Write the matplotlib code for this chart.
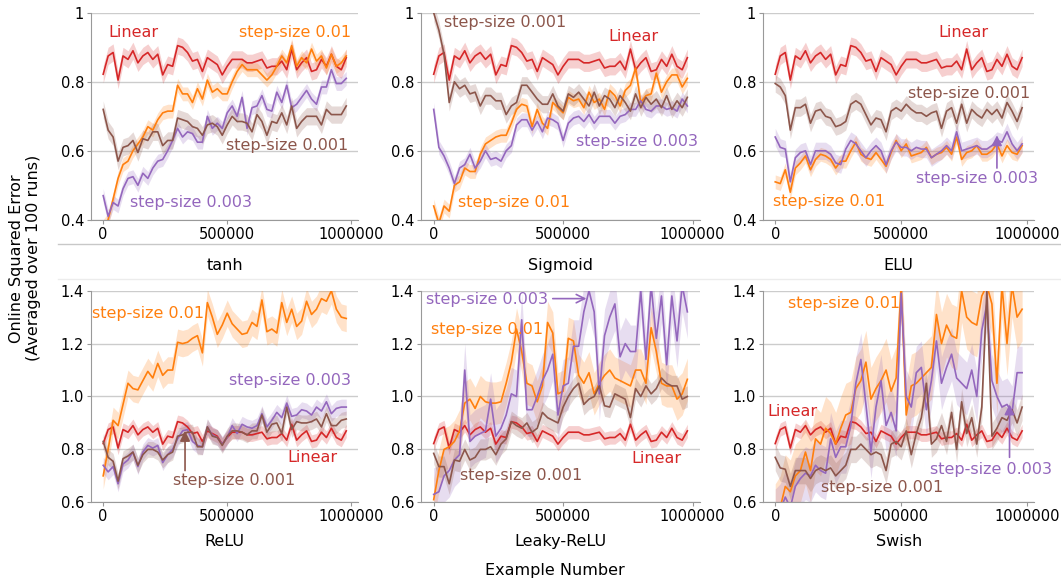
import numpy as np
import matplotlib
matplotlib.use("Agg")
import matplotlib.pyplot as plt
from matplotlib.lines import Line2D

# sample positions (every 20000 examples)
steps = list(range(0, 1000000, 20000))

# Linear baseline (same in every panel)
linear = [0.822, 0.875, 0.885, 0.805, 0.875, 0.865, 0.890, 0.855, 0.875, 0.885,
          0.865, 0.880, 0.820, 0.850, 0.845, 0.905, 0.900, 0.885, 0.860, 0.865,
          0.830, 0.870, 0.860, 0.850, 0.820, 0.845, 0.865, 0.865, 0.865, 0.855,
          0.855, 0.860, 0.865, 0.840, 0.845, 0.845, 0.860, 0.835, 0.895, 0.835,
          0.855, 0.870, 0.830, 0.835, 0.865, 0.845, 0.880, 0.845, 0.835, 0.870]

# tanh
tanh_s01 = [0.380, 0.400, 0.460, 0.520, 0.560, 0.570, 0.600, 0.620, 0.640, 0.670,
            0.660, 0.690, 0.710, 0.715, 0.715, 0.790, 0.765, 0.765, 0.740, 0.780,
            0.750, 0.805, 0.770, 0.780, 0.765, 0.765, 0.800, 0.830, 0.850, 0.835,
            0.835, 0.835, 0.820, 0.805, 0.820, 0.845, 0.875, 0.855, 0.905, 0.845,
            0.870, 0.855, 0.895, 0.860, 0.875, 0.840, 0.880, 0.845, 0.855, 0.875]
tanh_s003 = [0.470, 0.410, 0.450, 0.440, 0.490, 0.520, 0.525, 0.500, 0.535, 0.520,
             0.550, 0.570, 0.575, 0.600, 0.630, 0.665, 0.640, 0.655, 0.650, 0.625,
             0.625, 0.700, 0.665, 0.680, 0.665, 0.710, 0.730, 0.700, 0.755, 0.665,
             0.725, 0.730, 0.760, 0.720, 0.715, 0.770, 0.740, 0.790, 0.725, 0.735,
             0.755, 0.775, 0.750, 0.735, 0.785, 0.785, 0.835, 0.795, 0.795, 0.810]
tanh_s001 = [0.720, 0.660, 0.640, 0.570, 0.610, 0.615, 0.630, 0.595, 0.635, 0.630,
             0.655, 0.655, 0.615, 0.630, 0.630, 0.695, 0.690, 0.685, 0.670, 0.665,
             0.645, 0.675, 0.680, 0.670, 0.645, 0.675, 0.700, 0.685, 0.685, 0.680,
             0.655, 0.705, 0.685, 0.645, 0.685, 0.680, 0.710, 0.675, 0.730, 0.665,
             0.685, 0.700, 0.700, 0.700, 0.675, 0.720, 0.705, 0.705, 0.705, 0.730]

# Sigmoid
sig_s01 = [0.440, 0.390, 0.440, 0.425, 0.500, 0.510, 0.550, 0.540, 0.540, 0.590,
           0.620, 0.630, 0.640, 0.645, 0.645, 0.680, 0.720, 0.735, 0.730, 0.670,
           0.720, 0.680, 0.665, 0.740, 0.725, 0.710, 0.755, 0.745, 0.750, 0.725,
           0.770, 0.740, 0.750, 0.720, 0.775, 0.760, 0.730, 0.775, 0.790, 0.840,
           0.740, 0.760, 0.765, 0.825, 0.770, 0.800, 0.820, 0.820, 0.785, 0.810]
sig_s003 = [0.720, 0.610, 0.585, 0.550, 0.505, 0.550, 0.560, 0.590, 0.550, 0.570,
            0.600, 0.575, 0.580, 0.570, 0.600, 0.615, 0.675, 0.690, 0.690, 0.660,
            0.685, 0.655, 0.695, 0.690, 0.680, 0.630, 0.680, 0.695, 0.700, 0.685,
            0.705, 0.680, 0.700, 0.700, 0.700, 0.680, 0.700, 0.705, 0.720, 0.720,
            0.745, 0.720, 0.715, 0.730, 0.730, 0.720, 0.725, 0.715, 0.750, 0.730]
sig_s001 = [1.000, 0.950, 0.880, 0.740, 0.800, 0.780, 0.790, 0.765, 0.770, 0.730,
            0.760, 0.760, 0.745, 0.745, 0.705, 0.730, 0.740, 0.790, 0.790, 0.770,
            0.750, 0.735, 0.735, 0.765, 0.730, 0.715, 0.765, 0.755, 0.770, 0.750,
            0.730, 0.770, 0.730, 0.760, 0.750, 0.725, 0.760, 0.740, 0.715, 0.765,
            0.725, 0.755, 0.735, 0.750, 0.725, 0.760, 0.720, 0.745, 0.725, 0.755]

# ELU
elu_s01 = [0.510, 0.505, 0.545, 0.480, 0.550, 0.565, 0.585, 0.545, 0.575, 0.590,
           0.585, 0.575, 0.550, 0.570, 0.570, 0.600, 0.625, 0.590, 0.580, 0.575,
           0.595, 0.575, 0.555, 0.595, 0.630, 0.600, 0.620, 0.585, 0.590, 0.595,
           0.610, 0.580, 0.590, 0.595, 0.610, 0.590, 0.640, 0.575, 0.595, 0.600,
           0.615, 0.590, 0.590, 0.600, 0.620, 0.585, 0.615, 0.595, 0.590, 0.615]
elu_s003 = [0.640, 0.610, 0.605, 0.510, 0.580, 0.595, 0.600, 0.560, 0.600, 0.600,
            0.600, 0.590, 0.565, 0.560, 0.605, 0.630, 0.620, 0.600, 0.580, 0.600,
            0.615, 0.600, 0.560, 0.600, 0.625, 0.610, 0.610, 0.600, 0.610, 0.605,
            0.605, 0.580, 0.590, 0.600, 0.615, 0.600, 0.655, 0.600, 0.605, 0.610,
            0.615, 0.605, 0.605, 0.615, 0.630, 0.625, 0.655, 0.620, 0.600, 0.620]
elu_s001 = [0.795, 0.785, 0.760, 0.660, 0.725, 0.725, 0.735, 0.680, 0.715, 0.720,
            0.700, 0.695, 0.670, 0.675, 0.685, 0.735, 0.745, 0.735, 0.705, 0.675,
            0.695, 0.690, 0.655, 0.715, 0.725, 0.715, 0.735, 0.720, 0.710, 0.710,
            0.700, 0.710, 0.715, 0.665, 0.715, 0.725, 0.680, 0.735, 0.680, 0.720,
            0.705, 0.695, 0.720, 0.705, 0.720, 0.695, 0.740, 0.715, 0.685, 0.725]

# ReLU
relu_s01 = [0.700, 0.800, 0.910, 0.890, 0.970, 1.050, 1.030, 1.025, 1.060, 1.095,
            1.070, 1.125, 1.080, 1.100, 1.100, 1.205, 1.200, 1.205, 1.220, 1.230,
            1.165, 1.355, 1.300, 1.235, 1.270, 1.315, 1.275, 1.255, 1.235, 1.240,
            1.280, 1.265, 1.365, 1.245, 1.255, 1.240, 1.355, 1.280, 1.330, 1.265,
            1.285, 1.360, 1.310, 1.330, 1.370, 1.360, 1.400, 1.330, 1.300, 1.295]
relu_s003 = [0.740, 0.715, 0.735, 0.670, 0.745, 0.760, 0.790, 0.735, 0.790, 0.815,
             0.805, 0.815, 0.750, 0.780, 0.800, 0.840, 0.870, 0.875, 0.830, 0.815,
             0.810, 0.885, 0.855, 0.845, 0.820, 0.845, 0.890, 0.860, 0.895, 0.885,
             0.880, 0.890, 0.935, 0.885, 0.910, 0.940, 0.920, 0.975, 0.925, 0.930,
             0.950, 0.945, 0.930, 0.960, 0.945, 0.980, 0.935, 0.955, 0.960, 0.960]
relu_s001 = [0.830, 0.770, 0.755, 0.680, 0.765, 0.775, 0.790, 0.740, 0.780, 0.800,
             0.800, 0.790, 0.760, 0.780, 0.790, 0.850, 0.855, 0.865, 0.865, 0.810,
             0.810, 0.885, 0.850, 0.845, 0.815, 0.850, 0.870, 0.870, 0.865, 0.855,
             0.870, 0.870, 0.930, 0.865, 0.895, 0.900, 0.860, 0.960, 0.875, 0.905,
             0.900, 0.900, 0.905, 0.915, 0.885, 0.935, 0.890, 0.890, 0.910, 0.915]

# Leaky-ReLU
leaky_s01 = [0.610, 0.720, 0.800, 0.810, 0.830, 0.870, 0.975, 0.990, 0.955, 1.000,
             0.980, 0.975, 0.975, 0.980, 1.050, 1.130, 1.255, 1.170, 1.050, 1.040,
             0.980, 1.040, 1.280, 1.240, 1.010, 1.020, 1.220, 1.210, 1.080, 1.050,
             1.090, 1.010, 1.050, 1.080, 1.100, 1.070, 1.060, 1.050, 1.040, 1.100,
             1.100, 1.050, 1.260, 1.170, 1.050, 1.040, 1.040, 0.990, 1.010, 1.065]
leaky_s003 = [0.630, 0.640, 0.700, 0.720, 0.760, 0.780, 1.100, 0.830, 0.850, 0.860,
              0.870, 0.990, 0.850, 0.880, 0.930, 1.010, 1.000, 1.290, 0.950, 0.950,
              1.000, 1.060, 1.100, 1.160, 0.930, 1.040, 1.050, 1.190, 1.190, 1.320,
              1.400, 1.320, 1.010, 1.230, 1.300, 1.350, 1.150, 1.200, 1.170, 1.170,
              1.400, 1.140, 1.420, 1.220, 1.380, 1.120, 1.380, 1.210, 1.420, 1.320]
leaky_s001 = [0.785, 0.735, 0.735, 0.670, 0.760, 0.755, 0.800, 0.760, 0.770, 0.800,
              0.800, 0.810, 0.780, 0.820, 0.840, 0.905, 0.890, 0.880, 0.900, 0.865,
              0.880, 0.940, 0.920, 0.910, 0.900, 0.960, 1.000, 1.030, 1.050, 0.970,
              0.990, 1.000, 1.040, 0.965, 0.960, 1.010, 1.000, 0.990, 0.920, 1.030,
              1.000, 1.040, 1.010, 1.030, 1.070, 1.050, 1.040, 1.040, 0.990, 1.000]

# Swish
swish_s01 = [0.550, 0.580, 0.660, 0.640, 0.700, 0.720, 0.790, 0.720, 0.840, 0.820,
             0.880, 0.860, 0.820, 0.880, 0.930, 0.940, 1.030, 1.060, 1.130, 0.990,
             1.030, 1.060, 1.100, 1.020, 1.070, 1.420, 0.930, 1.040, 1.050, 1.070,
             1.090, 1.110, 1.310, 1.200, 1.270, 1.230, 1.220, 1.400, 1.300, 1.280,
             1.270, 1.380, 1.420, 1.350, 1.050, 1.420, 1.200, 1.420, 1.300, 1.330]
swish_s003 = [0.550, 0.570, 0.620, 0.580, 0.660, 0.690, 0.710, 0.700, 0.740, 0.720,
              0.710, 0.840, 0.770, 0.810, 0.810, 0.890, 1.050, 1.140, 0.970, 0.790,
              0.960, 1.060, 0.890, 0.940, 0.870, 1.390, 1.000, 0.960, 1.090, 1.110,
              0.950, 1.060, 1.210, 1.050, 1.110, 1.160, 1.070, 1.050, 1.030, 1.100,
              1.000, 1.250, 1.350, 1.060, 1.000, 0.960, 0.970, 0.940, 1.090, 1.090]
swish_s001 = [0.770, 0.730, 0.725, 0.660, 0.720, 0.720, 0.720, 0.690, 0.720, 0.730,
              0.720, 0.730, 0.700, 0.720, 0.740, 0.800, 0.800, 0.820, 0.800, 0.780,
              0.790, 0.780, 0.720, 0.820, 0.830, 0.810, 0.870, 0.780, 0.860, 0.920,
              1.050, 0.820, 0.840, 0.890, 0.830, 0.940, 0.800, 0.980, 0.860, 0.920,
              0.820, 0.960, 1.400, 0.850, 0.880, 0.920, 0.910, 0.950, 0.900, 0.960]

# band half-widths per panel: [Linear, 0.01, 0.003, 0.001]
bands = {
    "tanh": [0.025, 0.02, 0.02, 0.025],
    "Sigmoid": [0.025, 0.02, 0.02, 0.025],
    "ELU": [0.025, 0.02, 0.025, 0.025],
    "ReLU": [0.025, 0.05, 0.03, 0.03],
    "Leaky-ReLU": [0.025, 0.08, 0.1, 0.04],
    "Swish": [0.025, 0.12, 0.1, 0.05],
}

panels = [
    ("tanh", tanh_s01, tanh_s003, tanh_s001),
    ("Sigmoid", sig_s01, sig_s003, sig_s001),
    ("ELU", elu_s01, elu_s003, elu_s001),
    ("ReLU", relu_s01, relu_s003, relu_s001),
    ("Leaky-ReLU", leaky_s01, leaky_s003, leaky_s001),
    ("Swish", swish_s01, swish_s003, swish_s001),
]

colors = ["#d62728", "#ff7f0e", "#9467bd", "#8c564b"]

fig = plt.figure(figsize=(10.61, 5.83), dpi=100)

# axes rectangles (left, bottom, width, height) in figure fraction
lefts = [0.0858, 0.3968, 0.719]
widths = [0.252, 0.263, 0.256]
rows = [(0.623, 0.355), (0.1384, 0.363)]

x = np.array(steps)
axes = []
for i, (name, s01, s003, s001) in enumerate(panels):
    r, c = divmod(i, 3)
    ax = fig.add_axes([lefts[c], rows[r][0], widths[c], rows[r][1]])
    axes.append(ax)
    series = [linear, s01, s003, s001]
    for k, (vals, col) in enumerate(zip(series, colors)):
        v = np.array(vals)
        ax.fill_between(x, v - bands[name][k], v + bands[name][k],
                        color=col, alpha=0.22, linewidth=0)
        ax.plot(x, v, color=col, linewidth=1.2)
    if r == 0:
        ax.set_ylim(0.4, 1.0)
        ax.set_yticks([0.4, 0.6, 0.8, 1.0])
        ax.set_yticklabels(["0.4", "0.6", "0.8", "1"])
        ax.set_xlabel(name, fontsize=11.5, labelpad=12)
    else:
        ax.set_ylim(0.6, 1.4)
        ax.set_yticks([0.6, 0.8, 1.0, 1.2, 1.4])
        ax.set_yticklabels(["0.6", "0.8", "1.0", "1.2", "1.4"])
        ax.set_xlabel(name, fontsize=11.5, labelpad=7)
    ax.set_xticks([0, 500000, 1000000])
    ax.set_xticklabels(["0", "500000", "1000000"])
    ax.tick_params(labelsize=10.5, length=3, color="#999999", pad=2)
    ax.grid(axis="y", color="#cccccc", linewidth=1)
    ax.set_axisbelow(True)
    for side in ["top", "right"]:
        ax.spines[side].set_visible(False)
    for side in ["left", "bottom"]:
        ax.spines[side].set_color("#999999")


def arrow(ax, x0, y0, x1, y1, col, style="-|>"):
    ax.annotate("", xy=(x1, y1), xytext=(x0, y0), annotation_clip=False,
                arrowprops=dict(arrowstyle=style, color=col, lw=1.2,
                                mutation_scale=15, shrinkA=0, shrinkB=0))


fs = 11.5
ax = axes[0]
ax.text(20000, 0.944, "Linear", color=colors[0], fontsize=fs, va="center")
ax.text(1000000, 0.944, "step-size 0.01", color=colors[1], fontsize=fs, va="center", ha="right")
ax.text(990000, 0.614, "step-size 0.001", color=colors[3], fontsize=fs, va="center", ha="right")
ax.text(107000, 0.45, "step-size 0.003", color=colors[2], fontsize=fs, va="center")

ax = axes[1]
ax.text(38000, 0.973, "step-size 0.001", color=colors[3], fontsize=fs, va="center")
ax.text(676000, 0.93, "Linear", color=colors[0], fontsize=fs, va="center")
ax.text(1020000, 0.628, "step-size 0.003", color=colors[2], fontsize=fs, va="center", ha="right")
ax.text(92000, 0.45, "step-size 0.01", color=colors[1], fontsize=fs, va="center")

ax = axes[2]
ax.text(647000, 0.944, "Linear", color=colors[0], fontsize=fs, va="center")
ax.text(1012000, 0.767, "step-size 0.001", color=colors[3], fontsize=fs, va="center", ha="right")
ax.text(1044000, 0.52, "step-size 0.003", color=colors[2], fontsize=fs, va="center", ha="right")
arrow(ax, 880000, 0.55, 880000, 0.645, colors[2])
ax.text(-10000, 0.453, "step-size 0.01", color=colors[1], fontsize=fs, va="center")

ax = axes[3]
ax.text(-45000, 1.312, "step-size 0.01", color=colors[1], fontsize=fs, va="center")
ax.text(1000000, 1.062, "step-size 0.003", color=colors[2], fontsize=fs, va="center", ha="right")
ax.text(945000, 0.771, "Linear", color=colors[0], fontsize=fs, va="center", ha="right")
ax.text(280000, 0.684, "step-size 0.001", color=colors[3], fontsize=fs, va="center")
arrow(ax, 330000, 0.72, 330000, 0.87, colors[3])

ax = axes[4]
ax.text(-28000, 1.368, "step-size 0.003", color=colors[2], fontsize=fs, va="center")
arrow(ax, 460000, 1.37, 590000, 1.37, colors[2], style="->")
ax.text(-10000, 1.255, "step-size 0.01", color=colors[1], fontsize=fs, va="center")
ax.text(765000, 0.767, "Linear", color=colors[0], fontsize=fs, va="center")
ax.text(100000, 0.70, "step-size 0.001", color=colors[3], fontsize=fs, va="center")

ax = axes[5]
ax.text(50000, 1.35, "step-size 0.01", color=colors[1], fontsize=fs, va="center")
ax.text(-30000, 0.945, "Linear", color=colors[0], fontsize=fs, va="center")
ax.text(1100000, 0.725, "step-size 0.003", color=colors[2], fontsize=fs, va="center", ha="right")
arrow(ax, 930000, 0.77, 930000, 0.97, colors[2])
ax.text(180000, 0.657, "step-size 0.001", color=colors[3], fontsize=fs, va="center")

# shared labels
fig.text(0.0235, 0.557, "Online Squared Error\n(Averaged over 100 runs)",
         rotation=90, ha="center", va="center", fontsize=11.5, multialignment="center")
fig.text(0.523, 0.022, "Example Number", ha="center", va="center", fontsize=11.5)

# thin separator lines between the rows
fig.add_artist(Line2D([58 / 1061, 1.0], [1 - 244 / 583, 1 - 244 / 583],
                      color="#c8c8c8", linewidth=1, transform=fig.transFigure))
fig.add_artist(Line2D([58 / 1061, 1.0], [1 - 279 / 583, 1 - 279 / 583],
                      color="#ececec", linewidth=1, transform=fig.transFigure))

fig.savefig("out.png", dpi=100)
